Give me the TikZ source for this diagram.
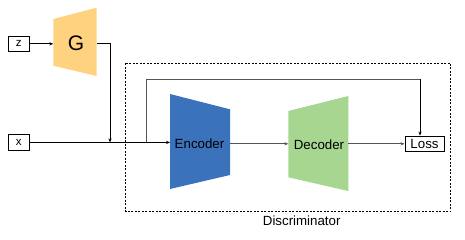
\documentclass[tikz,border=0pt]{standalone}
\usepackage{fontspec}
\setmainfont{Liberation Sans}
\usetikzlibrary{arrows.meta}
\definecolor{gcol}{HTML}{FFD27F}
\definecolor{ecol}{HTML}{3A72BC}
\definecolor{dcol}{HTML}{A6D68F}
\definecolor{lcol}{HTML}{555555}
\begin{document}
\begin{tikzpicture}[x=1pt,y=-1pt,
  box/.style={draw,line width=0.9pt,inner sep=0pt,minimum height=15.5pt,font=\fontsize{11.5}{11.5}\selectfont},
  lbl/.style={font=\fontsize{13.3}{13.3}\selectfont,inner sep=0pt},
  conn/.style={line width=0.8pt,-{Stealth[length=4pt,width=3.2pt]}},
  plain/.style={line width=0.8pt}]
\useasboundingbox (0,0) rectangle (465,239);
% boxes
\node[box,minimum width=21pt] (z) at (18.7,43.8) {z};
\node[box,minimum width=21pt] (x) at (18.7,142.4) {x};
\node[box,minimum width=39pt,font=\fontsize{13.3}{13.3}\selectfont] (loss) at (424.5,143.8) {Loss};
% G
\fill[gcol] (53.3,19) -- (96.7,7.7) -- (96.7,76) -- (53.3,65.7) -- cycle;
\node[font=\fontsize{21}{21}\selectfont,inner sep=0pt] (G) at (76,43.5) {G};
\coordinate (Gl) at (53.3,43.8);
\coordinate (Gr) at (96.7,43.8);
% Encoder
\fill[ecol] (170,94) -- (230,109.3) -- (230,175) -- (170,189) -- cycle;
\node[lbl] (enc) at (199.5,144) {Encoder};
\coordinate (El) at (170,142.4);
\coordinate (Er) at (230,143.8);
% Decoder
\fill[dcol] (288.3,111) -- (348.3,96) -- (348.3,191) -- (288.3,177.3) -- cycle;
\node[lbl] (dec) at (319,144.5) {Decoder};
\coordinate (Dl) at (288.3,143.8);
\coordinate (Dr) at (348.3,143.8);
% discriminator frame
\draw[line width=0.6pt,dash pattern=on 2pt off 1.5pt] (125.7,63.3) rectangle (450.7,211.7);
\node[lbl] (disc) at (301.7,220.7) {Discriminator};
% connectors
\coordinate (j) at (110,142.4);
\coordinate (b) at (146.7,142.4);
\coordinate (lt) at (420,79);
\draw[conn] (z) -- (Gl);
\draw[conn] (Gr) -| (j);
\draw[conn] (x) -- (El);
\draw[plain,lcol] (b) |- (lt);
\draw[conn] (lt) -- (lt |- loss.north);
\draw[conn,lcol] (Er) -- (Dl);
\draw[conn,lcol] (Dr) -- (loss.west);
\end{tikzpicture}
\end{document}
